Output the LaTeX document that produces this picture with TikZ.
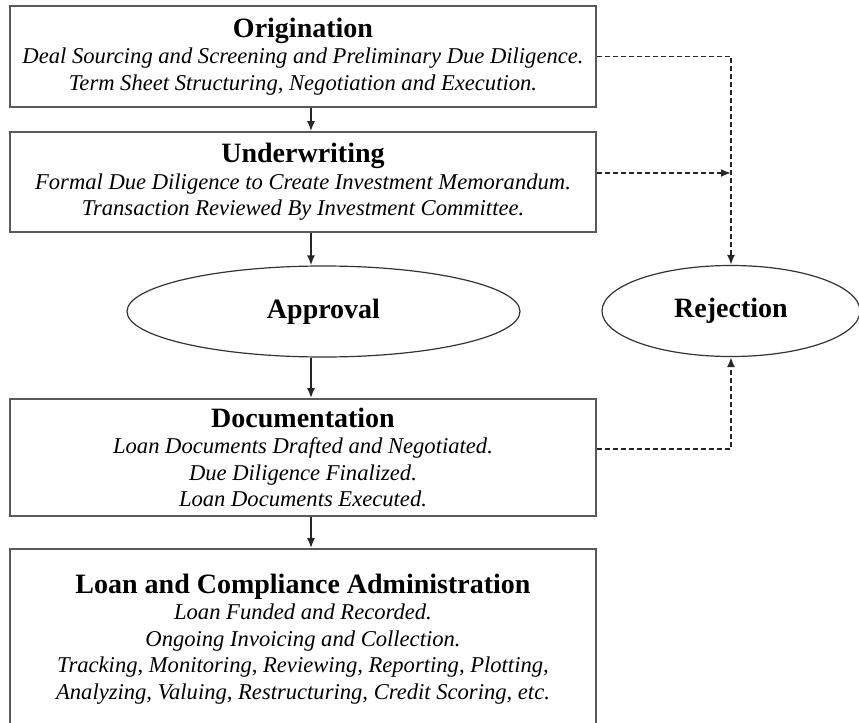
\documentclass[tikz,border=0pt]{standalone}
\usepackage{fontspec}
\setmainfont{Liberation Serif}
\usetikzlibrary{shapes.geometric,arrows.meta}
\newcommand{\Stage}[1]{{\fontsize{14}{13}\selectfont\bfseries\upshape #1}}

\begin{document}
\begin{tikzpicture}[x=0.5pt, y=-0.5pt,
  >={Latex[length=5pt,width=4pt]},
  box/.style={draw=black!65, line width=0.8pt, rectangle, minimum width=293pt,
    align=center, inner sep=2pt, font=\fontsize{11.3}{13.25}\selectfont\itshape},
  oval/.style={draw=black!80, line width=0.6pt, ellipse, inner sep=0pt,
    minimum height=45.5pt, font=\fontsize{14}{16}\selectfont\bfseries},
  flow/.style={->, line width=0.9pt, black!85},
  reject/.style={->, line width=0.9pt, black!85, dash pattern=on 2.5pt off 1.5pt}]

  \useasboundingbox (0,0) rectangle (859,723);

  \node[box, minimum height=50.5pt] (orig) at (303,56.5)
    {\Stage{Origination}\\
     Deal Sourcing and Screening and Preliminary Due Diligence.\\
     Term Sheet Structuring, Negotiation and Execution.};
  \node[box, minimum height=50pt] (under) at (303,182)
    {\Stage{Underwriting}\\
     Formal Due Diligence to Create Investment Memorandum.\\
     Transaction Reviewed By Investment Committee.};

  \node[oval, minimum width=196.5pt] (appr) at (323.5,311.5) {Approval};
  \node[oval, minimum width=129pt] (rej) at (731,311) {Rejection};

  \node[box, minimum height=58.5pt] (doc) at (303,457.5)
    {\Stage{Documentation}\\
     Loan Documents Drafted and Negotiated.\\
     Due Diligence Finalized.\\
     Loan Documents Executed.};
  % bottom edge runs off the page
  \node[box, minimum height=90pt] (admin) at (303,639)
    {\Stage{Loan and Compliance Administration}\\
     Loan Funded and Recorded.\\
     Ongoing Invoicing and Collection.\\
     Tracking, Monitoring, Reviewing, Reporting, Plotting,\\
     Analyzing, Valuing, Restructuring, Credit Scoring, etc.};

  \coordinate (col) at (311,0);

  \draw[flow] (orig.south -| col) -- (under.north -| col);  %% orig->under
  \draw[flow] (under.south -| col) -- (appr.north -| col);  %% under->appr
  \draw[flow] (appr.south -| col) -- (doc.north -| col);    %% appr->doc
  \draw[flow] (doc.south -| col) -- (admin.north -| col);   %% doc->admin

  \draw[reject] (orig.east) -| (rej.north);                 % orig->rej
  \draw[reject] ([yshift=4.5pt]under.east) -- ([yshift=4.5pt]under.east -| rej.north); % under->rej
  \draw[reject] ([yshift=4.25pt]doc.east) -| (rej.south);   % doc->rej
\end{tikzpicture}
\end{document}
